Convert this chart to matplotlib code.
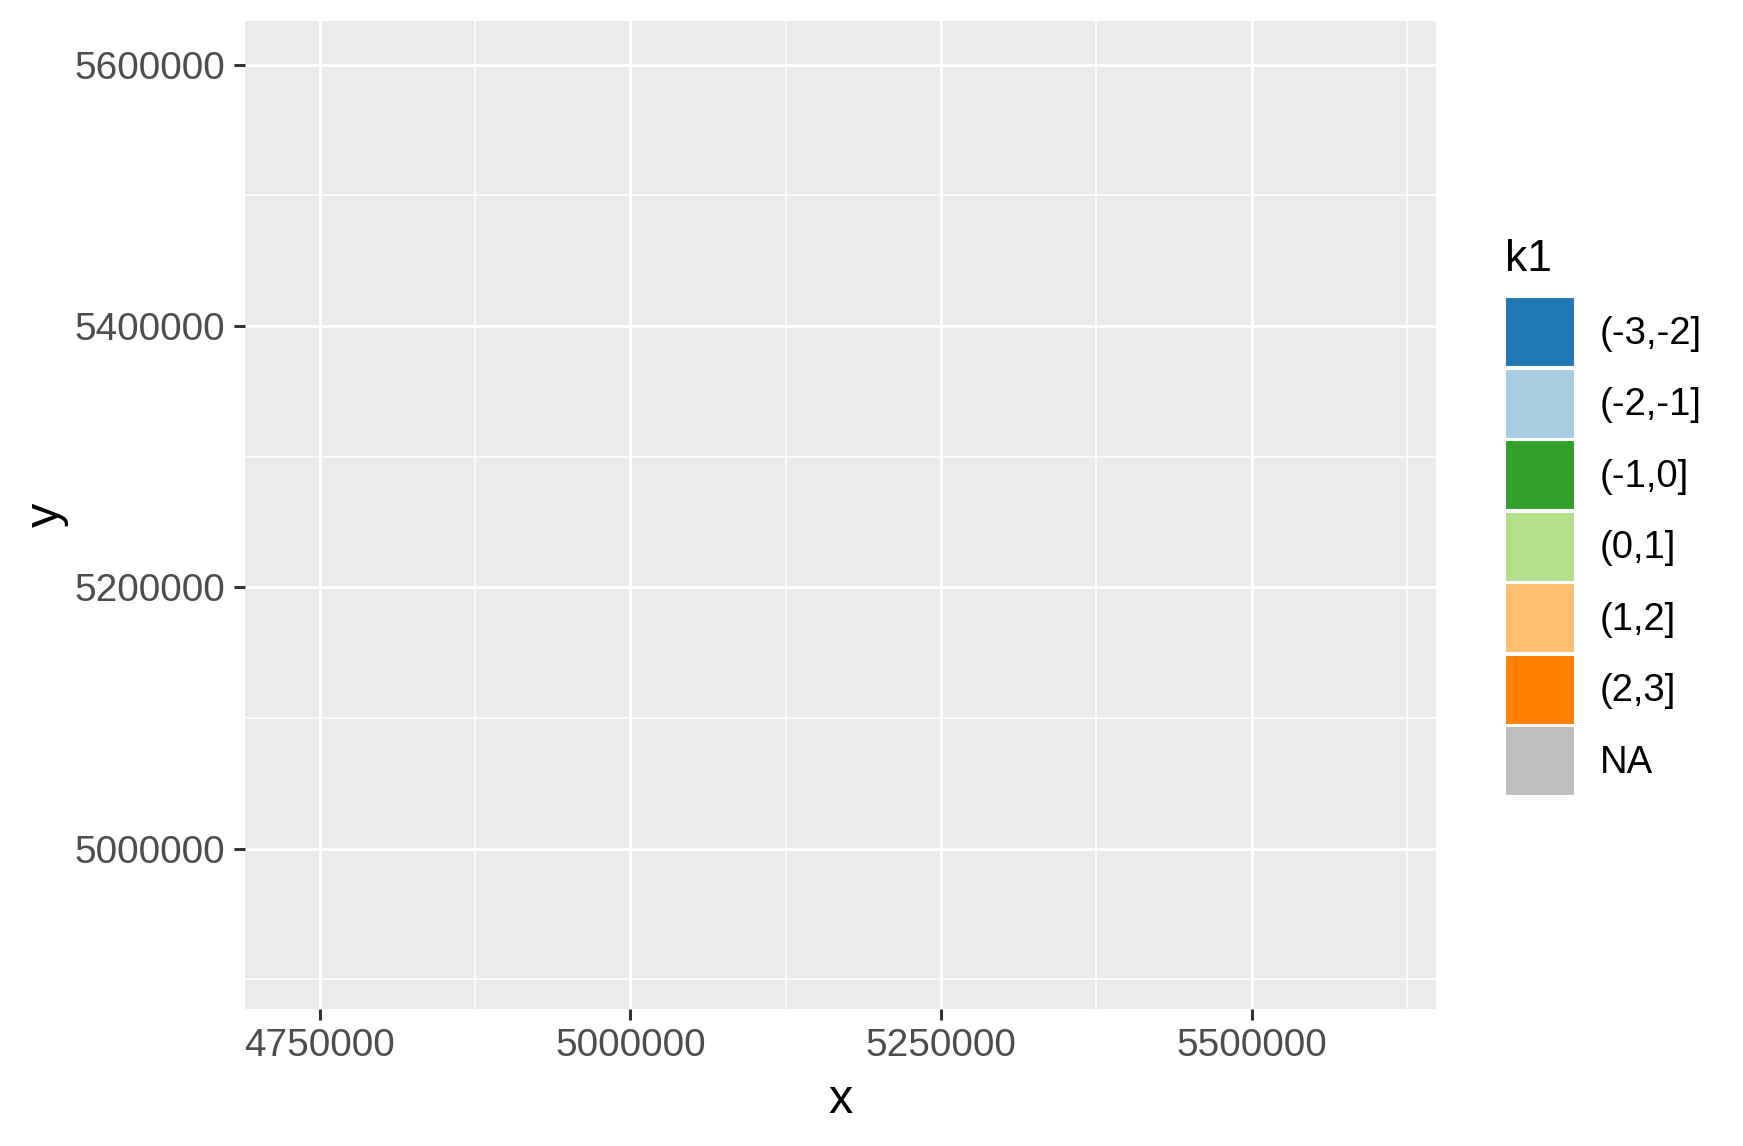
import matplotlib
matplotlib.use('Agg')
import matplotlib.pyplot as plt
from matplotlib.patches import Patch

# axis ranges and ticks
x_limits = [4689300, 5648400]
y_limits = [4877200, 5633500]
x_major = [4750000, 5000000, 5250000, 5500000]
x_minor = [4875000, 5125000, 5375000, 5625000]
y_major = [5000000, 5200000, 5400000, 5600000]
y_minor = [4900000, 5100000, 5300000, 5500000]

# legend classes
k1_labels = ['(-3,-2]', '(-2,-1]', '(-1,0]', '(0,1]', '(1,2]', '(2,3]', 'NA']
k1_colors = ['#1f78b4', '#a6cee3', '#33a02c', '#b2df8a', '#fdbf6f', '#ff7f00', '#bebebe']

panel = '#ebebeb'
tick_col = '#4d4d4d'
TICK_SIZE = 27.9
LEGEND_SIZE = 27.5
TITLE_SIZE = 34.9

plt.rcParams['font.family'] = ['Liberation Sans', 'DejaVu Sans']

W, H = 1743, 1146
fig = plt.figure(figsize=(W / 100, H / 100), dpi=100)
fig.patch.set_facecolor('white')
ax = fig.add_axes([0.1403, 0.1195, 0.6835, 0.8621])
ax.set_facecolor(panel)

ax.set_xlim(x_limits)
ax.set_ylim(y_limits)
ax.set_xticks(x_major)
ax.set_xticks(x_minor, minor=True)
ax.set_yticks(y_major)
ax.set_yticks(y_minor, minor=True)
ax.set_xticklabels([str(v) for v in x_major])
ax.set_yticklabels([str(v) for v in y_major])

ax.grid(which='major', color='white', linewidth=2.2)
ax.grid(which='minor', color='white', linewidth=1.1)
ax.set_axisbelow(True)

for spine in ax.spines.values():
    spine.set_visible(False)

ax.tick_params(which='major', length=8, width=2.2, color='#333333',
               labelsize=TICK_SIZE, labelcolor=tick_col, pad=6)
ax.tick_params(which='minor', length=0)

ax.set_xlabel('x', fontsize=TITLE_SIZE, color='black', labelpad=10)
ax.set_ylabel('y', fontsize=TITLE_SIZE, color='black', labelpad=4)

# legend keys: 70 px squares, stacked with a thin white gap
fs_px = LEGEND_SIZE * 100 / 72
key_px = 70
hh = (key_px / fs_px - 0.245) / 0.65
handles = [Patch(facecolor=c, edgecolor='white', linewidth=1.5) for c in k1_colors]
leg = fig.legend(handles, k1_labels, loc='upper left',
                 bbox_to_anchor=(1505 / W, 1 - 297 / H),
                 frameon=False, fontsize=LEGEND_SIZE,
                 handlelength=key_px / fs_px, handleheight=hh,
                 labelspacing=1.5 / fs_px, handletextpad=25 / fs_px,
                 borderpad=0, borderaxespad=0)
for t in leg.get_texts():
    t.set_color('black')

fig.text(1505 / W, 1 - 271 / H, 'k1', fontsize=32, color='black',
         ha='left', va='baseline')

fig.savefig('out.png', dpi=100, facecolor='white')
